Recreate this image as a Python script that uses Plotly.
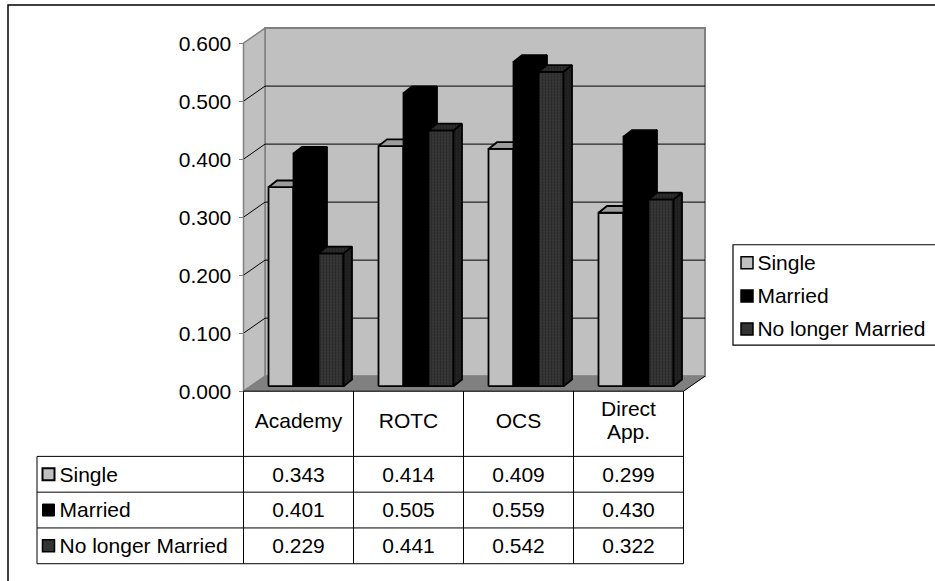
import plotly.graph_objects as go

# ---- data -----------------------------------------------------------------
categories = ["Academy", "ROTC", "OCS", "Direct App."]
header_labels = ["Academy", "ROTC", "OCS", "Direct<br>App."]
series_names = ["Single", "Married", "No longer Married"]
single = [0.343, 0.414, 0.409, 0.299]
married = [0.401, 0.505, 0.559, 0.430]
no_longer_married = [0.229, 0.441, 0.542, 0.322]
y_ticks = [0.0, 0.1, 0.2, 0.3, 0.4, 0.5, 0.6]

series_values = [single, married, no_longer_married]

# ---- geometry of the page ---------------------------------------------------
W, H = 935, 581
V_STRETCH = 1.01                    # small vertical correction of the layout
ORIGIN_X, ORIGIN_Y = 243.5, 390.0   # front-left corner of the floor, px
PX_PER_CAT = 110.0                  # one category column, px
PX_PER_VAL = 578.3                  # one value unit, px
FONT = "Liberation Sans, Arial, sans-serif"
FS = 21


def fx(px):
    return px / W


def fy(py):
    return 1 - py * V_STRETCH / H


N = len(categories)
Y_MAX = y_ticks[-1]

# depth of the 3-D box (axis units)
DX, DY = 21.5 / PX_PER_CAT, 15.0 / PX_PER_VAL
# bars start a third of the way back and reach a bit past the middle
FX, FY = 7.5 / PX_PER_CAT, 5.0 / PX_PER_VAL
BX, BY = 8.5 / PX_PER_CAT, 6.7 / PX_PER_VAL
BW = 25.0 / PX_PER_CAT
GAP = (1 - 3 * BW) / 2

XR = [-0.05, N + 0.25]
YR = [-0.012, 0.632]


def polys(shapes):
    """Join closed polygons into one x/y list separated by gaps."""
    xs, ys = [], []
    for pts in shapes:
        for x, y in pts + [pts[0]]:
            xs.append(x)
            ys.append(y)
        xs.append(None)
        ys.append(None)
    return xs, ys


fig = go.Figure()


def add_fill(shapes, fill, line_color, line_width, pattern=None):
    xs, ys = polys(shapes)
    tr = go.Scatter(
        x=xs, y=ys, mode="lines", fill="toself", fillcolor=fill,
        line=dict(color=line_color, width=line_width),
        showlegend=False, hoverinfo="skip",
    )
    if pattern:
        tr.update(fillpattern=pattern)
    fig.add_trace(tr)


def add_line(segments, color, width):
    xs, ys = [], []
    for seg in segments:
        for x, y in seg:
            xs.append(x)
            ys.append(y)
        xs.append(None)
        ys.append(None)
    fig.add_trace(go.Scatter(x=xs, y=ys, mode="lines",
                             line=dict(color=color, width=width),
                             showlegend=False, hoverinfo="skip"))


# ---- walls and floor --------------------------------------------------------
add_fill([[(DX, DY), (N + DX, DY), (N + DX, Y_MAX + DY), (DX, Y_MAX + DY)]],
         "#c0c0c0", "#808080", 2)
add_fill([[(0, 0), (DX, DY), (DX, Y_MAX + DY), (0, Y_MAX)]],
         "#c0c0c0", "#808080", 1.5)
add_fill([[(0, 0), (N, 0), (N + DX, DY), (DX, DY)]],
         "#808080", "#808080", 0.5)

# gridlines on the back wall and the matching diagonals on the side wall
grid = []
for v in y_ticks[1:-1]:
    grid.append([(0, v), (DX, v + DY), (N + DX, v + DY)])
add_line(grid, "#000000", 1)

# front and right edges of the floor
add_line([[(0, 0), (N, 0), (N + DX, DY)]], "#000000", 1)

# ---- 3-D columns ------------------------------------------------------------
def dots(bg, fg):
    return dict(shape=".", bgcolor=bg, fgcolor=fg, size=3, solidity=0.45)


face_styles = [
    # front, side, top
    (dict(fill="#c0c0c0"), dict(fill="#8c8c8c"), dict(fill="#9c9c9c")),
    (dict(fill="#000000"), dict(fill="#000000"), dict(fill="#000000")),
    (dict(fill="#383838", pattern=dots("#3a3a3a", "#141414")),
     dict(fill="#242424", pattern=dots("#262626", "#0c0c0c")),
     dict(fill="#2e2e2e", pattern=dots("#303030", "#101010"))),
]

for j, values in enumerate(series_values):
    fronts, sides, tops = [], [], []
    for i, v in enumerate(values):
        x0 = i + GAP + j * BW + FX
        x1 = x0 + BW
        yb, yt = FY, FY + v
        fronts.append([(x0, yb), (x1, yb), (x1, yt), (x0, yt)])
        sides.append([(x1, yb), (x1 + BX, yb + BY), (x1 + BX, yt + BY), (x1, yt)])
        tops.append([(x0, yt), (x1, yt), (x1 + BX, yt + BY), (x0 + BX, yt + BY)])
    front_s, side_s, top_s = face_styles[j]
    add_fill(fronts, front_s["fill"], "#000000", 1.8, front_s.get("pattern"))
    add_fill(sides, side_s["fill"], "#000000", 1.8, side_s.get("pattern"))
    add_fill(tops, top_s["fill"], "#000000", 1.8, top_s.get("pattern"))

# ---- data table under the chart (x2 / y2) ------------------------------------
ROW_PX = 35.67
BODY_TOP_PX = 455.0
T_LEFT_PX, T_RIGHT_PX = 30.0, 690.0
T_TOP_PX, T_BOT_PX = 388.0, 566.0
tx_range = [(T_LEFT_PX - ORIGIN_X) / PX_PER_CAT, (T_RIGHT_PX - ORIGIN_X) / PX_PER_CAT]
ty_range = [(BODY_TOP_PX - T_BOT_PX) / ROW_PX, (BODY_TOP_PX - T_TOP_PX) / ROW_PX]
header_top = (BODY_TOP_PX - ORIGIN_Y) / ROW_PX
header_mid = (BODY_TOP_PX - 421.0) / ROW_PX
header_line = 22.0 / ROW_PX
text_drop = 2.0 / ROW_PX
label_left = (37.0 - ORIGIN_X) / PX_PER_CAT
swatch_x = (48.5 - ORIGIN_X) / PX_PER_CAT
label_x = (59.5 - ORIGIN_X) / PX_PER_CAT
n_rows = len(series_names)

centers = [i + 0.5 for i in range(N)]
hx, hy, ht = [], [], []
for c, lab in zip(centers, header_labels):
    lines = lab.split("<br>")
    for k, part in enumerate(lines):
        hx.append(c)
        hy.append(header_mid - (k - (len(lines) - 1) / 2) * header_line)
        ht.append(part)
fig.add_trace(go.Scatter(
    x=hx, y=hy, text=ht, mode="text",
    textfont=dict(family=FONT, size=FS, color="#000"),
    xaxis="x2", yaxis="y2", showlegend=False, hoverinfo="skip"))

swatches = [
    dict(color="#c0c0c0", line=dict(color="#000", width=2)),
    dict(color="#000000", line=dict(color="#000", width=1)),
    dict(color="#333333", line=dict(color="#000", width=1.5)),
]
for r, (name, values) in enumerate(zip(series_names, series_values)):
    yrow = -(r + 0.5)
    fig.add_trace(go.Scatter(
        x=centers, y=[yrow - text_drop] * N, text=[f"{v:.3f}" for v in values],
        mode="text", textfont=dict(family=FONT, size=FS, color="#000"),
        xaxis="x2", yaxis="y2", showlegend=False, hoverinfo="skip"))
    fig.add_trace(go.Scatter(
        x=[swatch_x], y=[yrow], mode="markers", name=name,
        marker=dict(symbol="square", size=12, **swatches[r]),
        xaxis="x2", yaxis="y2", showlegend=False, hoverinfo="skip"))
    fig.add_trace(go.Scatter(
        x=[label_x], y=[yrow - text_drop], text=[name], mode="text",
        textposition="middle right",
        textfont=dict(family=FONT, size=FS, color="#000"),
        xaxis="x2", yaxis="y2", showlegend=False, hoverinfo="skip"))

shapes = []
for i in range(N + 1):
    shapes.append(dict(type="line", xref="x2", yref="y2", x0=i, x1=i,
                       y0=header_top, y1=-n_rows, line=dict(color="#000", width=1)))
for r in range(n_rows + 1):
    shapes.append(dict(type="line", xref="x2", yref="y2", x0=label_left, x1=N,
                       y0=-r, y1=-r, line=dict(color="#000", width=1)))
shapes.append(dict(type="line", xref="x2", yref="y2", x0=label_left, x1=label_left,
                   y0=0, y1=-n_rows, line=dict(color="#000", width=1)))

# ---- legend box at the right (x3 / y3) ----------------------------------------
L_LEFT_PX, L_RIGHT_PX = 735.0, 935.0
L_TOP_PX, L_STEP_PX = 245.5, 33.0
legend_drop = 1.5 / L_STEP_PX
fig.add_trace(go.Scatter(
    x=[0.06] * n_rows, y=list(range(n_rows)), mode="markers",
    marker=dict(symbol="square", size=12,
                color=[s["color"] for s in swatches],
                line=dict(color="#000", width=1.5)),
    xaxis="x3", yaxis="y3", showlegend=False, hoverinfo="skip"))
fig.add_trace(go.Scatter(
    x=[0.112] * n_rows, y=[k + legend_drop for k in range(n_rows)], text=series_names,
    mode="text", textposition="middle right",
    textfont=dict(family=FONT, size=FS, color="#000"),
    xaxis="x3", yaxis="y3", showlegend=False, hoverinfo="skip"))
shapes.append(dict(type="rect", xref="paper", yref="paper",
                   x0=fx(733), x1=fx(945), y0=fy(344), y1=fy(244),
                   line=dict(color="#000", width=1.2)))

# outer frame of the chart area
shapes.append(dict(type="rect", xref="paper", yref="paper",
                   x0=fx(8), x1=fx(945), y0=-0.02, y1=fy(5),
                   line=dict(color="#000", width=1.5)))

hidden = dict(visible=False, fixedrange=True)

fig.update_layout(
    width=W, height=H, autosize=False,
    margin=dict(l=0, r=0, t=0, b=0),
    paper_bgcolor="#ffffff", plot_bgcolor="rgba(0,0,0,0)",
    showlegend=False, hovermode=False,
    font=dict(family=FONT, size=FS, color="#000"),
    xaxis=dict(range=XR, anchor="y", fixedrange=True,
               domain=[fx(ORIGIN_X + XR[0] * PX_PER_CAT), fx(ORIGIN_X + XR[1] * PX_PER_CAT)],
               showgrid=False, zeroline=False, showline=False, showticklabels=False),
    yaxis=dict(range=YR, anchor="free", position=fx(ORIGIN_X), fixedrange=True,
               domain=[fy(ORIGIN_Y - YR[0] * PX_PER_VAL), fy(ORIGIN_Y - YR[1] * PX_PER_VAL)],
               tickmode="array", tickvals=y_ticks, tickformat=".3f",
               ticks="outside", ticklen=5, tickwidth=1, tickcolor="#808080",
               ticklabelstandoff=3,
               tickfont=dict(family=FONT, size=FS, color="#000"),
               showgrid=False, zeroline=False, showline=False),
    xaxis2=dict(hidden, range=tx_range, anchor="y2",
                domain=[fx(T_LEFT_PX), fx(T_RIGHT_PX)]),
    yaxis2=dict(hidden, range=ty_range, anchor="x2",
                domain=[fy(T_BOT_PX), fy(T_TOP_PX)]),
    xaxis3=dict(hidden, range=[0, 1], anchor="y3",
                domain=[fx(L_LEFT_PX), fx(L_RIGHT_PX)]),
    yaxis3=dict(hidden, range=[n_rows - 0.5, -0.5], anchor="x3",
                domain=[fy(L_TOP_PX + n_rows * L_STEP_PX), fy(L_TOP_PX)]),
    shapes=shapes,
)

fig.write_html("out.html")
